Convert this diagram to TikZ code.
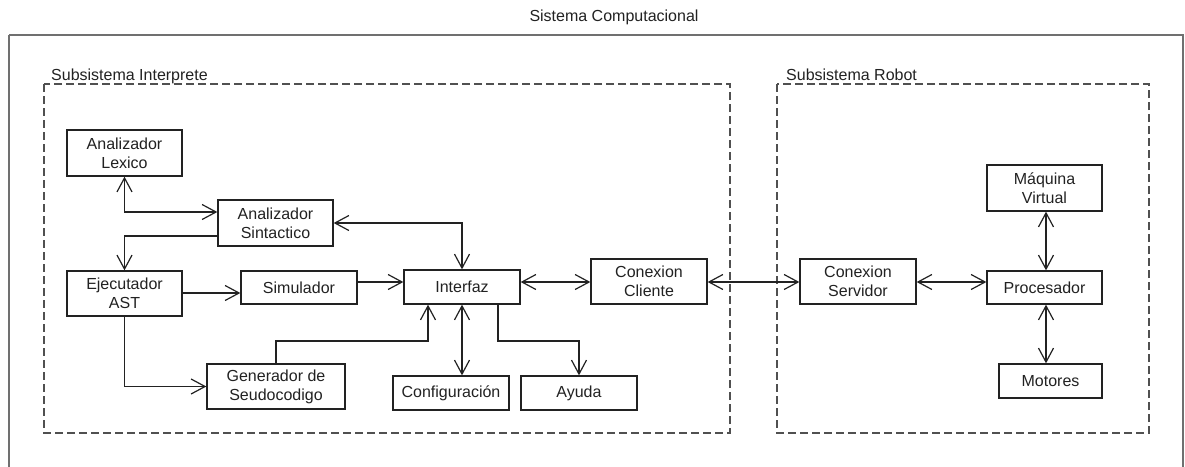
\documentclass[tikz,border=0pt]{standalone}
\usepackage{fontspec}
\setmainfont{Liberation Sans}
\usetikzlibrary{arrows.meta}
\definecolor{ink}{HTML}{222222}
\definecolor{frame}{HTML}{707070}
\definecolor{dashc}{HTML}{505050}
\begin{document}
\begin{tikzpicture}[x=1pt,y=-1pt,
  font=\fontsize{16}{19.2}\selectfont,
  box/.style={draw=ink, line width=1.3pt, text=ink, align=center, inner sep=0pt, rectangle},
  group/.style={draw=dashc, line width=1.3pt, dash pattern=on 8pt off 4pt},
  link/.style={draw=ink, line width=1.2pt},
  one/.style={link, -{Straight Barb[length=14pt,width=15pt,line width=1.2pt]}},
  both/.style={link, {Straight Barb[length=14pt,width=15pt,line width=1.2pt]}-{Straight Barb[length=14pt,width=15pt,line width=1.2pt]}},
  lbl/.style={text=ink, inner sep=0pt, anchor=base west}]
\useasboundingbox (0,0) rectangle (1185,466);
\fill[white] (0,0) rectangle (1185,466);

% outer system frame and title
\draw[frame, line width=2pt] (9,35) -- (9,480) (9,35) -- (1183,35) -- (1183,480);
\node[text=ink, inner sep=0pt, anchor=base] (title) at (614,21) {Sistema Computacional};

% subsystems
\draw[group] (44,84) rectangle (730,433);
\node[lbl] (lint) at (51,80) {Subsistema Interprete};
\draw[group] (777,84) rectangle (1149,433);
\node[lbl] (lrob) at (786,80) {Subsistema Robot};

% interpreter components
\node[box, minimum width=115pt, minimum height=46pt] (lex) at (124.5,153) {Analizador\\Lexico};
\node[box, minimum width=115pt, minimum height=46pt] (sin) at (275.5,223) {Analizador\\Sintactico};
\node[box, minimum width=115pt, minimum height=45pt] (eje) at (124.5,293.5) {Ejecutador\\AST};
\node[box, minimum width=116pt, minimum height=33pt] (sim) at (299,287.5) {Simulador};
\node[box, minimum width=138pt, minimum height=45pt] (gen) at (276,386.5) {Generador de\\Seudocodigo};
\node[box, minimum width=116pt, minimum height=34pt] (int) at (462,287) {Interfaz};
\node[box, minimum width=116pt, minimum height=45pt] (cli) at (649,281.5) {Conexion\\Cliente};
\node[box, minimum width=116pt, minimum height=34pt] (conf) at (451,393) {Configuración};
\node[box, minimum width=116pt, minimum height=34pt] (ayu) at (579,393) {Ayuda};

% robot components
\node[box, minimum width=116pt, minimum height=45pt] (srv) at (858,281.5) {Conexion\\Servidor};
\node[box, minimum width=115pt, minimum height=46pt] (maq) at (1044.5,188) {Máquina\\Virtual};
\node[box, minimum width=115pt, minimum height=33pt] (pro) at (1044.5,287.5) {Procesador};
\node[box, minimum width=103pt, minimum height=34pt] (mot) at (1050.5,381) {Motores};

% connectors
\draw[both] (lex.south) |- (sin.west |- 0,212);
\draw[one] (sin.west |- 0,236) -| (eje.north);
\draw[both] (sin.east |- 0,223) -| (int.north);
\draw[one] (eje.east |- 0,293) -- (sim.west |- 0,293);
\draw[one] (sim.east |- 0,282) -- (int.west |- 0,282);
\draw[one] (eje.south) |- (gen.west);
\draw[one] (gen.north) |- (428,341) -- (int.south -| 428,0);
\draw[both] (int.south) -- (conf.north -| int.south);
\draw[one] (int.south -| 498,0) -- (498,341) -| (ayu.north);
\draw[both] (int.east |- 0,282) -- (cli.west |- 0,282);
\draw[both] (cli.east |- 0,282) -- (srv.west |- 0,282);
\draw[both] (srv.east |- 0,282) -- (pro.west |- 0,282);
\draw[both] (maq.south -| 1046,0) -- (pro.north -| 1046,0);
\draw[both] (pro.south -| 1046,0) -- (mot.north -| 1046,0);
\end{tikzpicture}
\end{document}
